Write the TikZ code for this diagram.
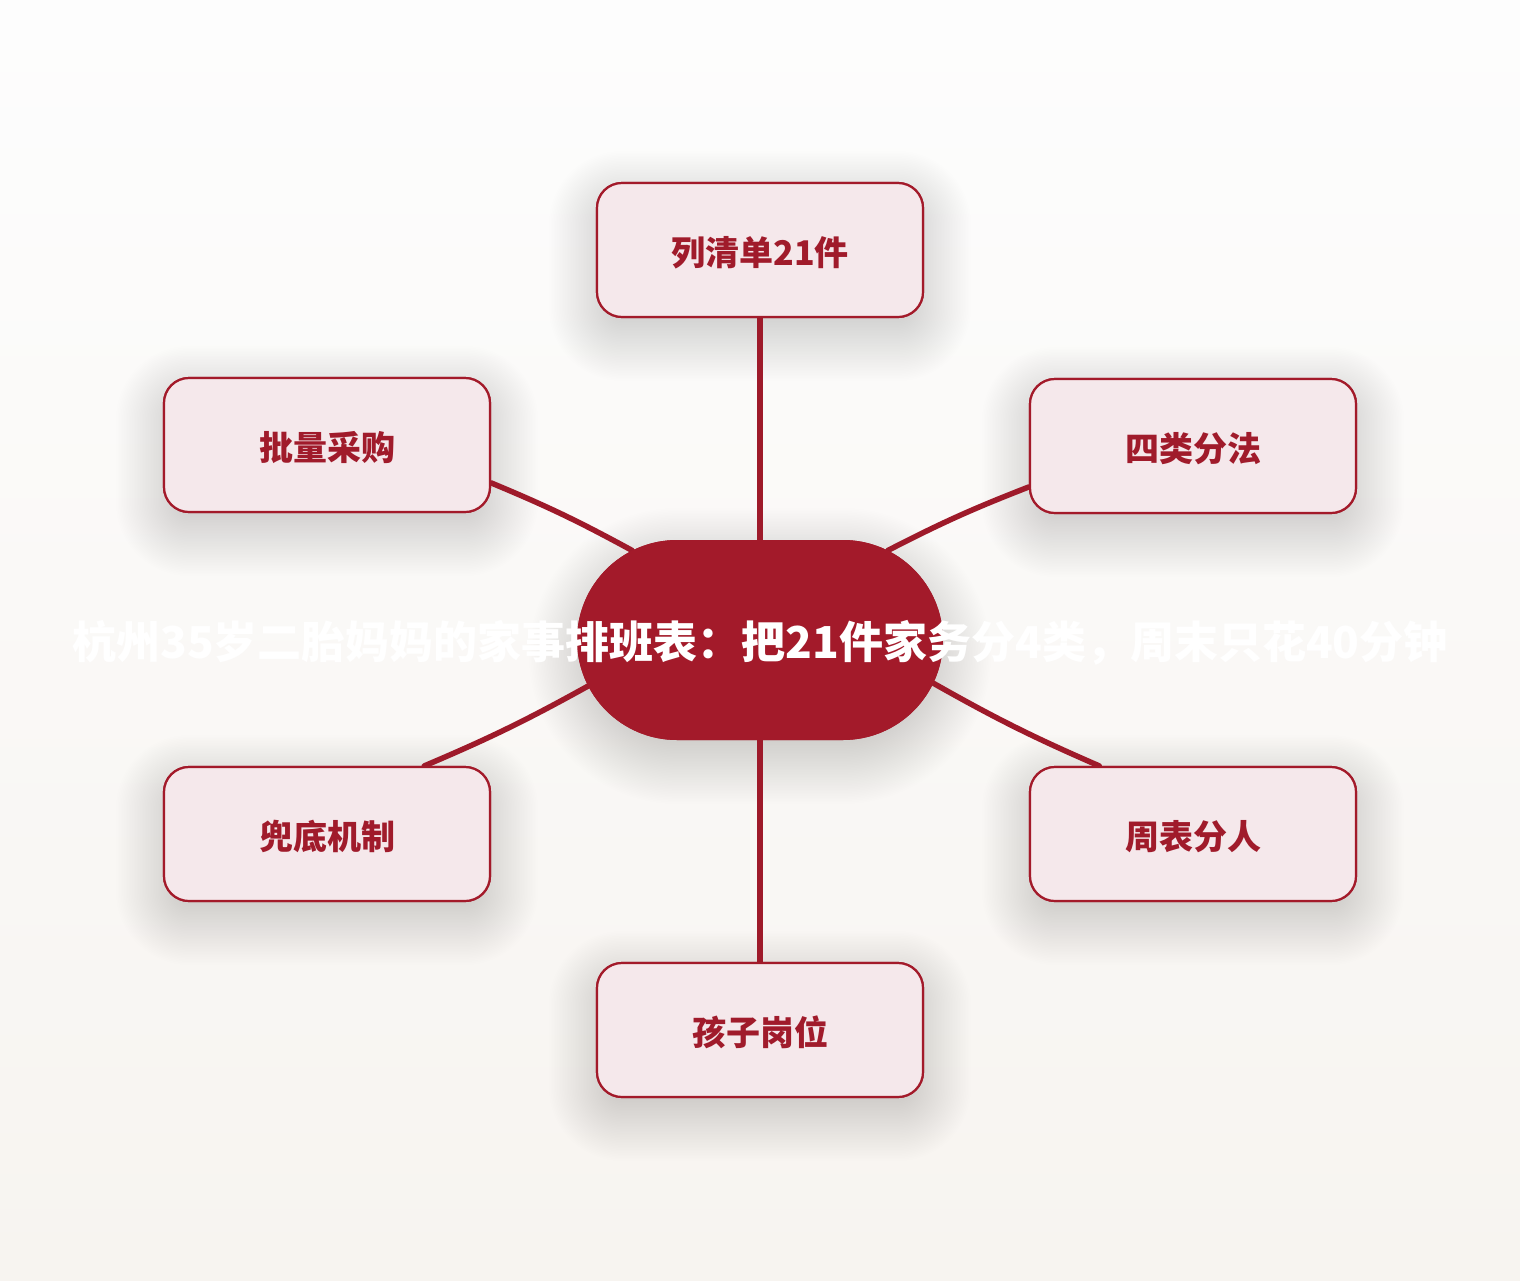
\documentclass[tikz,border=0pt]{standalone}
\usepackage{fontspec}
\setmainfont{Noto Sans CJK SC}
\usetikzlibrary{shapes.misc}
\definecolor{cred}{HTML}{A31A2A}
\definecolor{cline}{HTML}{9E1A2A}
\definecolor{cfill}{HTML}{F5E8EB}
\definecolor{ctext}{HTML}{A01B2B}
\definecolor{bgtop}{HTML}{FDFDFD}
\definecolor{bgbot}{HTML}{F7F4F0}
% #1 cx, #2 cy, #3 w, #4 h, #5 corner radius (0 = pill)
\newcommand\softshadow[5]{%
  \foreach \i in {-12,...,30}{%
    \pgfmathsetmacro\rr{ifthenelse(#5==0,(#4+3.2*\i)/2,max(#5+1.6*\i,1))}%
    \fill[black, opacity=0.0042, rounded corners=\rr pt]
      ({#1-#3/2-1.6*\i},{#2-#4/2+16-1.6*\i}) rectangle ({#1+#3/2+1.6*\i},{#2+#4/2+16+1.6*\i});
  }}
\begin{document}
\begin{tikzpicture}[x=1pt,y=-1pt,
  leaf/.style={draw=cred, line width=2.2pt, fill=cfill, rounded corners=25pt,
    minimum width=326pt, minimum height=134pt, inner sep=0pt,
    text height=30pt, text depth=0pt,
    font=\fontsize{34}{40}\selectfont\bfseries, text=ctext},
  hub/.style={rounded rectangle, fill=cred, minimum width=366pt, minimum height=200pt, inner sep=0pt},
  link/.style={draw=cline, line width=5.5pt, line cap=round},
  titletext/.style={font=\fontsize{44}{52}\selectfont\bfseries, text=white, inner sep=0pt},
]
\useasboundingbox (0,0) rectangle (1520,1280);
\shade[top color=bgtop, bottom color=bgbot] (0,0) rectangle (1520,1280);
% shadows
\softshadow{760}{250}{326}{134}{25}
\softshadow{327}{445}{326}{134}{25}
\softshadow{1193}{446}{326}{134}{25}
\softshadow{327}{834}{326}{134}{25}
\softshadow{1193}{834}{326}{134}{25}
\softshadow{760}{1030}{326}{134}{25}
\softshadow{760}{640}{366}{200}{0}
% nodes
\node[hub] (c) at (760,640) {};
\node[leaf] (top) at (760,250) {列清单21件};
\node[leaf] (tl) at (327,445) {批量采购};
\node[leaf] (tr) at (1193,446) {四类分法};
\node[leaf] (bl) at (327,834) {兜底机制};
\node[leaf] (br) at (1193,834) {周表分人};
\node[leaf] (bot) at (760,1030) {孩子岗位};
% connectors
\draw[link] (top.south) -- (c.north);
\draw[link] (c.south) -- (bot.north);
\draw[link] (tl.-13.5) to[bend left=3] (c.145);
\draw[link] (tr.-166) to[bend right=3] (c.35);
\draw[link] (bl.35.8) to[bend right=3] (c.-165.6);
\draw[link] (br.144.2) to[bend left=3] (c.-14.7);
% redraw leaf borders over line ends
\node[leaf] at (760,250) {列清单21件};
\node[leaf] at (327,445) {批量采购};
\node[leaf] at (1193,446) {四类分法};
\node[leaf] at (327,834) {兜底机制};
\node[leaf] at (1193,834) {周表分人};
\node[leaf] at (760,1030) {孩子岗位};
% hub over line ends, then title
\node[hub] at (760,640) {};
\node[titletext] (title) at (760,643) {杭州35岁二胎妈妈的家事排班表：把21件家务分4类，周末只花40分钟};
\end{tikzpicture}
\end{document}
